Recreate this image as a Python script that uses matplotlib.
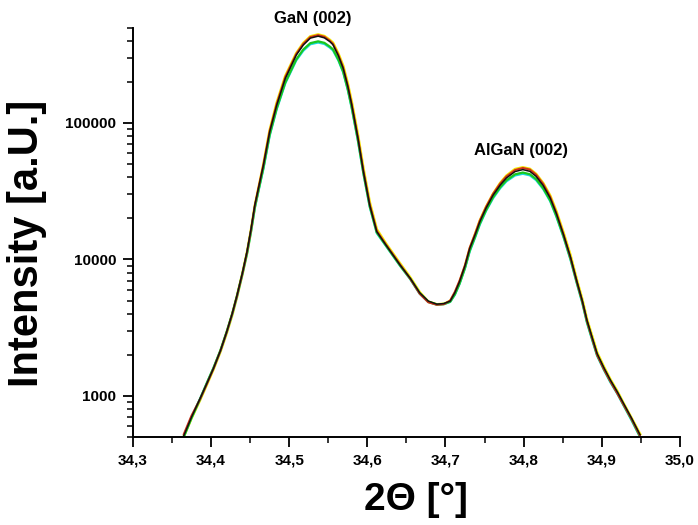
# XRD-mätning: GaN (002) och AlGaN (002) toppar, flera kurvor ovanpå varandra
import matplotlib.pyplot as plt
from matplotlib.ticker import FixedLocator, LogLocator, NullFormatter, FuncFormatter

plt.rcParams["font.family"] = ["Liberation Sans", "DejaVu Sans"]

# 2-theta värden (grader), gemensamma för alla kurvor
two_theta = [34.365, 34.375, 34.386, 34.395, 34.403, 34.412, 34.420, 34.427, 34.433, 34.440,
             34.446, 34.451, 34.456, 34.461, 34.467, 34.475, 34.484, 34.495, 34.509, 34.518,
             34.527, 34.537, 34.545, 34.552, 34.556, 34.563, 34.569, 34.575, 34.580, 34.588,
             34.595, 34.603, 34.612, 34.624, 34.642, 34.655, 34.667, 34.678, 34.689, 34.698,
             34.706, 34.712, 34.718, 34.725, 34.731, 34.738, 34.744, 34.752, 34.761, 34.770,
             34.778, 34.789, 34.799, 34.808, 34.816, 34.825, 34.834, 34.842, 34.851, 34.860,
             34.868, 34.875, 34.881, 34.888, 34.894, 34.903, 34.911, 34.920, 34.928, 34.938,
             34.949]

# intensitet för varje kurva
black = [510, 700, 960, 1250, 1590, 2150, 2950, 4000, 5400, 7900,
         11400, 16500, 25000, 34000, 49100, 86000, 135000, 212000, 314000, 372000,
         418000, 432000, 420000, 394000, 374000, 310000, 252000, 185000, 136000, 77000,
         43800, 25000, 16000, 12700, 9080, 7260, 5700, 4950, 4700, 4750,
         4950, 5700, 6870, 9000, 12000, 15200, 18900, 23800, 29600, 35000,
         39500, 44000, 45500, 44200, 40600, 34800, 28200, 21600, 15200, 10400,
         6950, 5000, 3600, 2650, 2050, 1600, 1310, 1070, 880, 690,
         520]
red = [525, 720, 950, 1240, 1580, 2140, 2930, 3980, 5350, 7850,
       11300, 16400, 25000, 34300, 49800, 87500, 138000, 217000, 320000, 380000,
       426000, 440000, 428000, 400000, 380000, 314000, 255000, 187000, 137000, 78000,
       44500, 25400, 16200, 12800, 9150, 7200, 5600, 4850, 4650, 4700,
       5000, 5800, 7000, 9100, 12200, 15500, 19300, 24300, 30300, 36000,
       40600, 45200, 46800, 45600, 41800, 35800, 28800, 21900, 15300, 10300,
       6900, 4950, 3550, 2600, 2000, 1560, 1280, 1040, 860, 680,
       510]
yellow = [505, 690, 940, 1230, 1570, 2120, 2900, 3920, 5300, 7800,
          11200, 16200, 24600, 33800, 49500, 88000, 140000, 220000, 323000, 384000,
          430000, 444000, 432000, 405000, 386000, 320000, 262000, 193000, 142000, 81000,
          46000, 26200, 16600, 13000, 9300, 7350, 5750, 4900, 4680, 4720,
          4950, 5650, 6800, 8900, 11900, 15300, 19200, 24200, 30200, 36200,
          41000, 45800, 47200, 46000, 42200, 36200, 29300, 22400, 15700, 10700,
          7100, 5100, 3650, 2700, 2080, 1620, 1320, 1080, 880, 690,
          525]
green = [500, 690, 950, 1260, 1600, 2160, 2960, 4000, 5380, 7850,
         11200, 16100, 24200, 32800, 47000, 82000, 128000, 198000, 292000, 345000,
         384000, 396000, 386000, 362000, 346000, 290000, 238000, 176000, 130000, 74500,
         42800, 24600, 15800, 12600, 9000, 7200, 5650, 4900, 4680, 4720,
         4900, 5550, 6650, 8700, 11600, 14700, 18300, 23000, 28600, 33800,
         38000, 42000, 43300, 42100, 38800, 33300, 27100, 20800, 14800, 10100,
         6800, 4900, 3500, 2580, 2000, 1560, 1280, 1050, 860, 675,
         505]
cyan = [505, 700, 960, 1260, 1600, 2150, 2940, 3960, 5300, 7750,
        11000, 15800, 23800, 32300, 46200, 80500, 126000, 195000, 287000, 338000,
        377000, 388000, 379000, 356000, 340000, 286000, 235000, 174000, 128000, 73500,
        42300, 24300, 15600, 12500, 8950, 7150, 5600, 4880, 4660, 4700,
        4880, 5500, 6600, 8600, 11400, 14500, 18000, 22700, 28100, 33200,
        37300, 41200, 42400, 41300, 38100, 32800, 26700, 20500, 14600, 9950,
        6700, 4820, 3450, 2540, 1970, 1540, 1260, 1035, 850, 665,
        500]

x_ticks = [34.3, 34.4, 34.5, 34.6, 34.7, 34.8, 34.9, 35.0]

fig = plt.figure(figsize=(6.98, 5.25), dpi=100)
ax = fig.add_axes([0.1905, 0.1676, 0.7835, 0.78])

# rita kurvorna, gula först så att de andra ligger ovanpå
ax.plot(two_theta, yellow, color="#f2e600", lw=2.0)
ax.plot(two_theta, cyan, color="#19d9e0", lw=1.6)
ax.plot(two_theta, green, color="#19c81e", lw=1.6)
ax.plot(two_theta, red, color="#d0301a", lw=1.4)
ax.plot(two_theta, black, color="#111111", lw=1.1)

ax.set_yscale("log")
ax.set_xlim(34.3, 35.0)
ax.set_ylim(500, 500000)

# axlar: bara vänster och botten
ax.spines["top"].set_visible(False)
ax.spines["right"].set_visible(False)
ax.spines["left"].set_linewidth(1.4)
ax.spines["bottom"].set_linewidth(1.4)

ax.set_xticks(x_ticks)
ax.xaxis.set_minor_locator(FixedLocator([34.35, 34.45, 34.55, 34.65, 34.75, 34.85, 34.95]))
ax.xaxis.set_major_formatter(FuncFormatter(lambda v, p: f"{v:.1f}".replace(".", ",")))

ax.yaxis.set_major_locator(FixedLocator([1000, 10000, 100000]))
ax.yaxis.set_major_formatter(FuncFormatter(lambda v, p: f"{int(v)}"))
ax.yaxis.set_minor_locator(LogLocator(base=10, subs=range(2, 10)))
ax.yaxis.set_minor_formatter(NullFormatter())

ax.tick_params(which="major", direction="out", length=7, width=1.3, pad=5, labelsize=11)
ax.tick_params(which="minor", direction="out", length=4, width=1.1)
for lab in ax.get_xticklabels() + ax.get_yticklabels():
    lab.set_fontweight("bold")

ax.set_xlabel("2Θ [°]", fontsize=28, fontweight="bold")
ax.set_ylabel("Intensity [a.U.]", fontsize=30, fontweight="bold")
# placering av axeltitlar enligt originalet
ax.xaxis.set_label_coords(0.517, -0.11)
ax.yaxis.set_label_coords(-0.158, 0.474)

# topp-etiketter
ax.text(34.53, 580000, "GaN (002)", ha="center", va="center", fontsize=12, fontweight="bold")
ax.text(34.797, 63000, "AlGaN (002)", ha="center", va="center", fontsize=12, fontweight="bold")

fig.savefig("out.png", dpi=100)
